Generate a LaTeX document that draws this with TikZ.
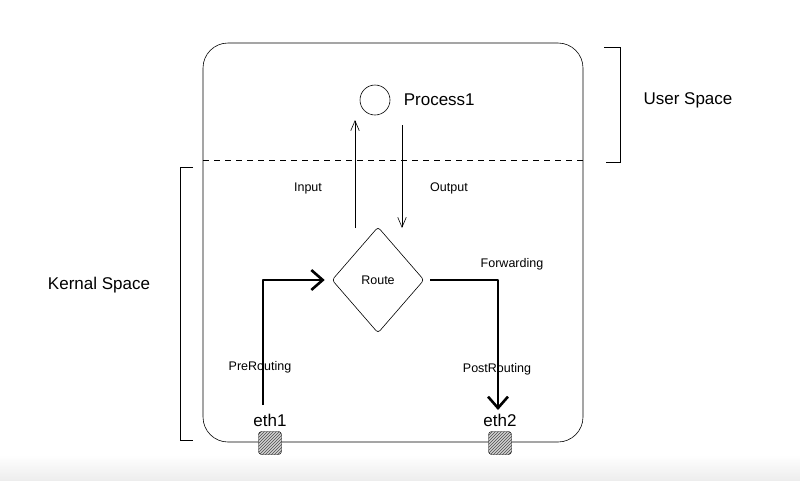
\documentclass[tikz,border=0pt]{standalone}
\usepackage{fontspec}
\setmainfont{Liberation Sans}
\usetikzlibrary{arrows.meta,shapes.geometric,patterns,positioning}

\begin{document}
\begin{tikzpicture}[x=1pt,y=-1pt,
  thinarr/.style={semithick,-{Straight Barb[length=3.5mm,width=3mm]}},
  thickarr/.style={line width=2.6pt,-{Straight Barb[length=4mm,width=7mm]}},
  lbl/.style={font=\fontsize{12.5}{15}\selectfont},
  big/.style={font=\fontsize{17}{20}\selectfont},
  port/.style={draw,rounded corners=3pt,minimum size=23pt,inner sep=0pt,
    preaction={fill=gray!35},pattern=north east lines,pattern color=black!70}]
\useasboundingbox (0,0) rectangle (800,480);
\shade[top color=white,bottom color=gray!14] (0,455) rectangle (800,480);

% host box and user/kernel split
\draw[semithick,rounded corners=25pt] (203,43) rectangle (583,442);
\draw[dash pattern=on 6pt off 5pt] (203,160) -- (583,160);

% brackets
\draw (604,47) -- (620,47) -- (620,162) -- (606,162);
\node[big] (user) at (688,100) {User Space};
\draw (193,167) -- (180,167) -- (180,440) -- (193,440);
\node[big] (kernel) at (99,285) {Kernal Space};

% process
\node[circle,draw,semithick,minimum size=30pt] (proc) at (375,100) {};
\node[big,right=10pt of proc] (proclbl) {Process1};

% route
\node[diamond,draw,semithick,rounded corners=3pt,aspect=0.87,
  minimum width=92pt,minimum height=106pt,inner sep=0pt,lbl] (route) at (378,280) {Route};

\coordinate (inlo) at (355,228);
\coordinate (inhi) at (355,120);
\coordinate (outhi) at (402,125);
\coordinate (outlo) at (402,228);
\draw[thinarr] (inlo) -- (inhi);
\draw[thinarr] (outhi) -- (outlo);
\node[lbl] (input) at (308,188) {Input};
\node[lbl] (output) at (449,188) {Output};

% interfaces
\node[port] (p1) at (270,443) {};
\node[port] (p2) at (500,443) {};
\node[big] (eth1) at (270,420) {eth1};
\node[big] (eth2) at (500,420) {eth2};

\coordinate (pre) at (263,405);
\coordinate (post) at (498,410);
\draw[thickarr,line join=round] (pre) |- ([xshift=-7pt]route.west);
\draw[thickarr,line join=round] ([xshift=6pt]route.east) -| (post);
\node[lbl] (prerouting) at (260,367) {PreRouting};
\node[lbl] (forwarding) at (512,264) {Forwarding};
\node[lbl] (postrouting) at (497,369) {PostRouting};
\end{tikzpicture}
\end{document}
